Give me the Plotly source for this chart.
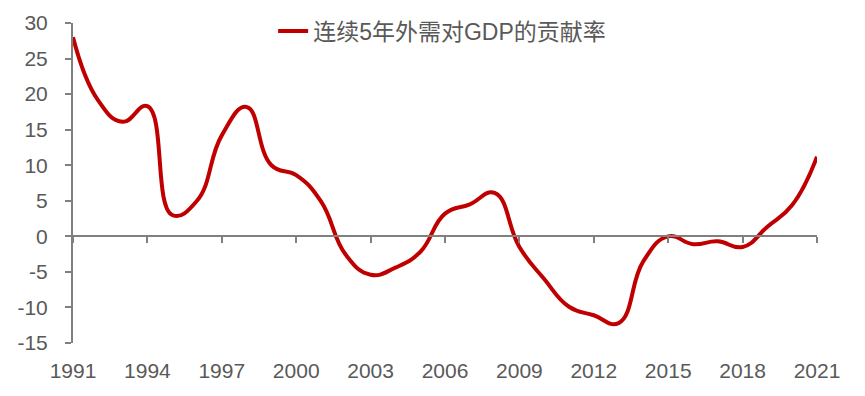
import plotly.graph_objects as go

years = list(range(1991, 2022))
values = [28.0, 19.2, 16.1, 18.3, 3.0, 5.0, 14.2, 18.2, 10.0, 8.6,
          4.9, -2.6, -5.4, -4.4, -2.2, 3.2, 4.5, 6.1, -1.5, -6.0,
          -9.9, -11.1, -12.2, -3.5, 0.0, -1.1, -0.7, -1.5, 1.35, 4.4, 11.2]
series_name = "连续5年外需对GDP的贡献率"
xtick_vals = list(range(1991, 2022, 3))
ytick_vals = list(range(-15, 31, 5))
ytick_text = [str(v) for v in ytick_vals]

FONT = "Liberation Sans, Arial, Noto Sans CJK SC, sans-serif"
GRAY = "#808080"
TXT = "#595959"

fig = go.Figure()
fig.add_trace(go.Scatter(
    x=years, y=values, mode="lines", name=series_name,
    line=dict(color="#C00000", width=4, shape="spline", smoothing=1.3),
    xaxis="x", yaxis="y",
))
# helper trace so the zero-line axis is drawn
fig.add_trace(go.Scatter(
    x=years, y=values, mode="lines", showlegend=False, hoverinfo="skip",
    line=dict(width=0, color="rgba(0,0,0,0)"), xaxis="x2", yaxis="y",
))

# page body has an 8px margin, so the figure is drawn 8px smaller/shifted
fig.update_layout(
    width=857, height=388,
    margin=dict(l=65, r=48, t=15, b=53, autoexpand=False),
    paper_bgcolor="white", plot_bgcolor="white",
    font=dict(family=FONT, color=TXT, size=21),
    showlegend=True,
    legend=dict(orientation="h", x=0.269, xanchor="left", y=1.042, yanchor="top",
                bgcolor="rgba(0,0,0,0)", font=dict(size=23, color=TXT,
                family="Liberation Sans, Noto Sans CJK SC, sans-serif")),
    xaxis=dict(range=[1991, 2021], tickvals=xtick_vals, showline=False,
               showgrid=False, zeroline=False, ticks="", ticklabelstandoff=13,
               automargin=False, tickfont=dict(size=21, color=TXT)),
    xaxis2=dict(range=[1991, 2021], tickvals=xtick_vals, overlaying="x",
                anchor="free", position=1/3, side="bottom",
                showline=True, linecolor=GRAY, linewidth=2,
                ticks="outside", ticklen=6, tickwidth=2, tickcolor=GRAY,
                showticklabels=False, showgrid=False, zeroline=False,
                automargin=False),
    yaxis=dict(range=[-15, 30], tickvals=ytick_vals, ticktext=ytick_text,
               showline=True, automargin=False,
               linecolor=GRAY, linewidth=2, ticks="outside", ticklen=6,
               tickwidth=2, tickcolor=GRAY, showgrid=False, zeroline=False,
               ticklabelstandoff=13, tickfont=dict(size=21, color=TXT)),
)

fig.write_html("out.html")
